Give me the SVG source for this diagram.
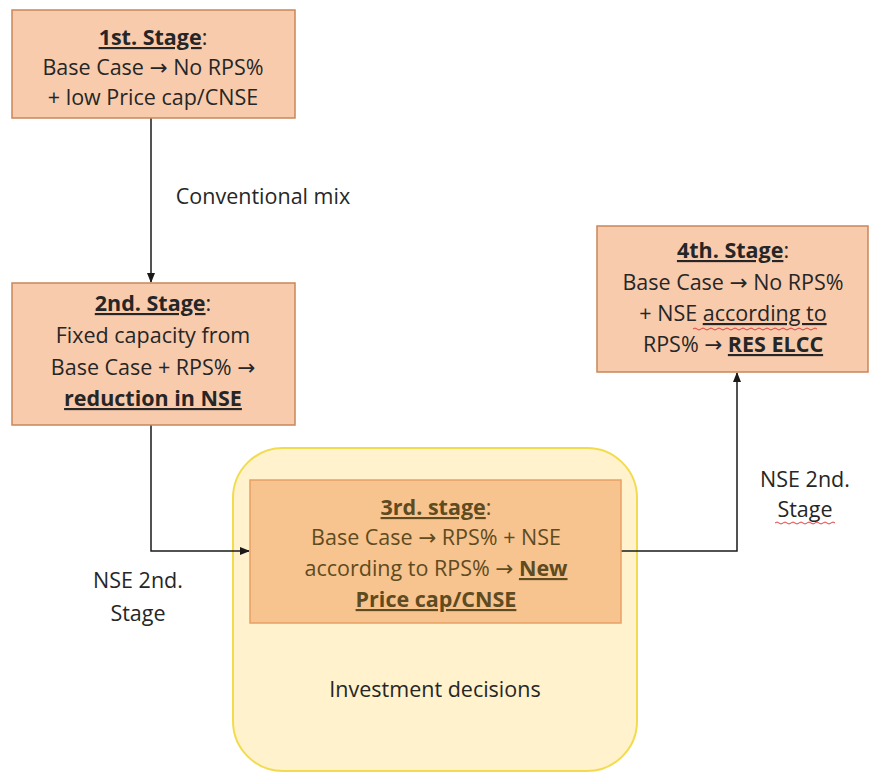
<svg xmlns="http://www.w3.org/2000/svg" width="872" height="773" viewBox="0 0 872 773">
<style>
.box{fill:#F8CBAD;stroke:#C9875A;stroke-width:1.5}
.box3{fill:#F7C38F;stroke:#E8A066;stroke-width:1.5}
.cont{fill:#FFF2CC;stroke:#F2DC4E;stroke-width:2}
text{font-family:"Open Sans","Liberation Sans",sans-serif;font-size:21.5px;fill:#262626;text-anchor:middle}
.b3 text{fill:#5E4B1F}
.u{text-decoration:underline;font-weight:bold}
.ul{text-decoration:underline}
.ar{font-family:"DejaVu Sans",sans-serif}
.conn{fill:none;stroke:#1a1a1a;stroke-width:1.5}
.wavy{fill:none;stroke:#E04040;stroke-width:1}
</style>
<defs>
<marker id="ah" markerWidth="10" markerHeight="10" refX="9" refY="5" orient="auto" markerUnits="userSpaceOnUse">
<path d="M0,1 L10,5 L0,9 Z" fill="#1a1a1a"/>
</marker>
</defs>
<rect width="872" height="773" fill="#ffffff"/>

<g id="investment">
<rect class="cont" x="233" y="448" width="404" height="323" rx="50" ry="50"/>
<text x="435" y="697">Investment decisions</text>
</g>

<g id="connectors">
<path class="conn" d="M151,118 V282" marker-end="url(#ah)"/>
<path class="conn" d="M151,425 V551 H249" marker-end="url(#ah)"/>
<path class="conn" d="M621,551 H737 V373" marker-end="url(#ah)"/>
<text x="263" y="204">Conventional mix</text>
<text x="138" y="588">NSE 2nd.</text>
<text x="138" y="621">Stage</text>
<text x="805" y="487">NSE 2nd.</text>
<text x="805" y="517">Stage</text>
<path class="wavy" d="M775,523 q2,-2 4,0 t4,0 t4,0 t4,0 t4,0 t4,0 t4,0 t4,0 t4,0 t4,0 t4,0 t4,0 t4,0 t4,0 t4,0"/>
</g>

<g id="stage1">
<rect class="box" x="12" y="10" width="283" height="108"/>
<text x="153" y="45"><tspan class="u">1st. Stage</tspan>:</text>
<text x="153" y="75">Base Case <tspan class="ar">→</tspan> No RPS%</text>
<text x="153" y="105">+ low Price cap/CNSE</text>
</g>

<g id="stage2">
<rect class="box" x="12" y="283" width="283" height="142"/>
<text x="153" y="311"><tspan class="u">2nd. Stage</tspan>:</text>
<text x="153" y="343">Fixed capacity from</text>
<text x="153" y="375">Base Case + RPS% <tspan class="ar">→</tspan></text>
<text x="153" y="406" class="u">reduction in NSE</text>
</g>

<g id="stage3" class="b3">
<rect class="box3" x="250" y="480" width="371" height="143"/>
<text x="436" y="515"><tspan class="u">3rd. stage</tspan>:</text>
<text x="436" y="545">Base Case <tspan class="ar">→</tspan> RPS% + NSE</text>
<text x="436" y="576">according to RPS% <tspan class="ar">→</tspan> <tspan class="u">New</tspan></text>
<text x="436" y="607" class="u">Price cap/CNSE</text>
</g>

<g id="stage4">
<rect class="box" x="597" y="226" width="271" height="146"/>
<text x="733" y="258"><tspan class="u">4th. Stage</tspan>:</text>
<text x="733" y="290">Base Case <tspan class="ar">→</tspan> No RPS%</text>
<text x="733" y="321">+ NSE <tspan class="ul">according to</tspan></text>
<text x="733" y="352">RPS% <tspan class="ar">→</tspan> <tspan class="u">RES ELCC</tspan></text>
<path class="wavy" d="M693,329 q2,-2 4,0 t4,0 t4,0 t4,0 t4,0 t4,0 t4,0 t4,0 t4,0 t4,0 t4,0 t4,0 t4,0 t4,0 t4,0 t4,0 t4,0 t4,0 t4,0 t4,0 t4,0 t4,0 t4,0 t4,0 t4,0 t4,0 t4,0 t4,0 t4,0 t4,0 t4,0"/>
</g>
</svg>
